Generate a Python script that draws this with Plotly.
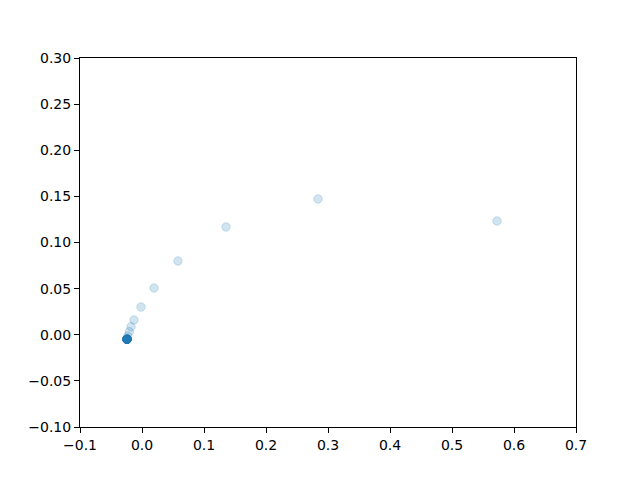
import plotly.graph_objects as go

# scatter values (the dark blob is many stacked points)
x = [0.5726, 0.2839, 0.1355, 0.058, 0.0194, -0.0016, -0.0129, -0.0177, -0.0205, -0.0231] + [-0.0242] * 16
y = [0.1233, 0.1472, 0.1168, 0.080, 0.0507, 0.030, 0.016, 0.0087, 0.0033, -0.0014] + [-0.0049] * 16

xticks = [-0.1, 0.0, 0.1, 0.2, 0.3, 0.4, 0.5, 0.6, 0.7]
yticks = [-0.10, -0.05, 0.00, 0.05, 0.10, 0.15, 0.20, 0.25, 0.30]


def fmt(v, nd):
    s = "%.*f" % (nd, v)
    return s.replace("-", "\u2212")


fig = go.Figure()
fig.add_trace(go.Scatter(
    x=x, y=y, mode="markers",
    marker=dict(size=8.5, color="rgba(31,119,180,0.2)",
                line=dict(width=1, color="rgba(31,119,180,0.2)")),
))

axis_style = dict(
    showgrid=False, zeroline=False, showline=True, linecolor="black", linewidth=1,
    mirror=True, ticks="outside", ticklen=5, tickwidth=1, tickcolor="black",
    tickfont=dict(family="DejaVu Sans", size=14, color="black"),
)
fig.update_xaxes(range=[-0.1, 0.7], tickvals=xticks,
                 ticktext=[fmt(v, 1) for v in xticks], **axis_style)
fig.update_yaxes(range=[-0.1, 0.3], tickvals=yticks,
                 ticktext=[fmt(v, 2) for v in yticks], **axis_style)

# page body has an 8px margin, so shift the margins to land the axes box in place
fig.update_layout(
    width=640, height=480,
    margin=dict(l=72, r=72, t=50, b=61),
    plot_bgcolor="white", paper_bgcolor="white",
    showlegend=False,
)

fig.write_html("out.html")
